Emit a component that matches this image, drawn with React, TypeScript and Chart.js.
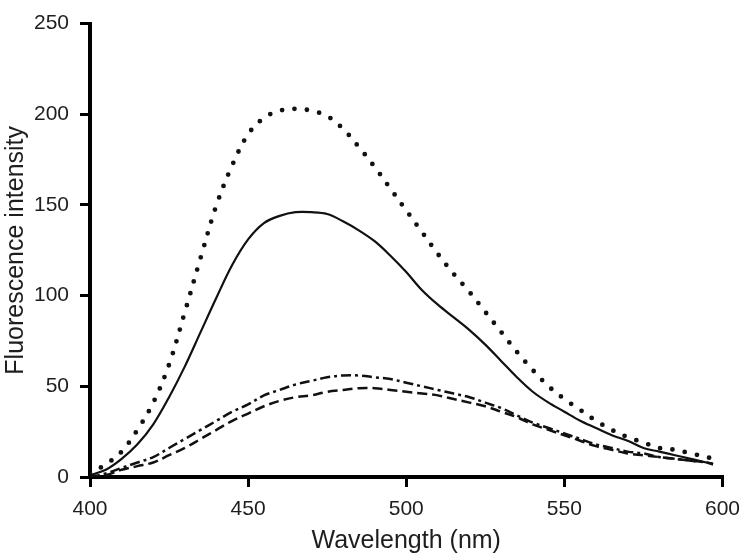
import React, { useEffect, useRef } from "react";
import { Chart, registerables } from "chart.js";

Chart.register(...registerables);

const wavelengths = [400, 405, 410, 415, 420, 425, 430, 435, 440, 445, 450, 455, 460, 465, 470, 475, 480, 485, 490, 495, 500, 505, 510, 515, 520, 525, 530, 535, 540, 545, 550, 555, 560, 565, 570, 575, 580, 585, 590, 595, 597];

const dottedSeries = [2, 7, 14, 26, 41, 62, 91, 121, 150, 172, 189, 198, 202, 203, 202, 199, 192, 182, 171, 159, 147, 135, 123, 112, 102, 91, 80, 69, 59, 50, 43, 37, 31, 26, 22, 19, 16, 15, 13, 11, 10];
const solidSeries = [1, 4, 10, 18, 29, 44, 61, 80, 99, 117, 131, 140, 144, 146, 146, 145, 141, 136, 130, 122, 113, 103, 95, 88, 81, 73, 64, 55, 47, 41, 36, 31, 27, 23, 20, 16, 14, 12, 10, 8, 7.5];
const dashDotSeries = [0, 2, 5, 8, 11, 16, 21, 26, 31, 36, 40, 45, 48, 51, 53, 55, 56, 56, 55, 54, 52, 50, 48, 46, 44, 41, 38, 34, 30, 27, 24, 21, 18, 16, 14, 13, 11, 10, 9, 8, 7];
const dashedSeries = [0, 1, 4, 6, 8, 12, 16, 21, 26, 31, 35, 39, 42, 44, 45, 47, 48, 49, 49, 48, 47, 46, 45, 43, 41, 39, 36, 33, 29, 26, 23, 20, 17, 15, 13, 12, 11, 10, 9, 8, 7];

const xTicks = [400, 450, 500, 550, 600];
const yTicks = [0, 50, 100, 150, 200, 250];

const xTitle = "Wavelength (nm)";
const yTitle = "Fluorescence intensity";

const toPoints = (vals: number[]) => wavelengths.map((x, i) => ({ x, y: vals[i] }));

export default function App() {
  const ref = useRef<HTMLCanvasElement | null>(null);

  useEffect(() => {
    if (!ref.current) return;
    const fam = "'Liberation Sans', Arial, sans-serif";
    const textColor = "#1e1e1e";
    const chart = new Chart(ref.current, {
      type: "line",
      data: {
        datasets: [
          {
            label: "dotted",
            data: toPoints(dottedSeries),
            borderColor: "#111",
            borderWidth: 4.8,
            borderDash: [0, 12.5],
            borderCapStyle: "round",
            pointRadius: 0,
            tension: 0.35,
            fill: false,
          },
          {
            label: "solid",
            data: toPoints(solidSeries),
            borderColor: "#111",
            borderWidth: 2.2,
            pointRadius: 0,
            tension: 0.35,
            fill: false,
          },
          {
            label: "dash-dot",
            data: toPoints(dashDotSeries),
            borderColor: "#111",
            borderWidth: 2.5,
            borderDash: [10, 4, 3, 4],
            pointRadius: 0,
            tension: 0.35,
            fill: false,
          },
          {
            label: "dashed",
            data: toPoints(dashedSeries),
            borderColor: "#111",
            borderWidth: 2.5,
            borderDash: [10, 5],
            pointRadius: 0,
            tension: 0.35,
            fill: false,
          },
        ],
      },
      options: {
        animation: false,
        responsive: false,
        maintainAspectRatio: false,
        layout: { padding: { left: 0, top: 13, right: 21, bottom: 0 } },
        plugins: {
          legend: { display: false },
          tooltip: { enabled: false },
        },
        scales: {
          x: {
            type: "linear",
            min: 400,
            max: 600,
            afterBuildTicks: (s: any) => {
              s.ticks = xTicks.map((v) => ({ value: v }));
            },
            afterFit: (s: any) => {
              s.height = 82;
            },
            ticks: {
              font: { family: fam, size: 21 },
              color: textColor,
              padding: 10,
              maxRotation: 0,
            },
            grid: {
              display: true,
              drawOnChartArea: false,
              drawTicks: true,
              tickLength: 10,
              lineWidth: 3,
              color: "#000",
            },
            border: { display: true, width: 4, color: "#000" },
            title: {
              display: true,
              text: xTitle,
              font: { family: fam, size: 25 },
              color: textColor,
              padding: { top: 0, bottom: 3 },
            },
          },
          y: {
            type: "linear",
            min: 0,
            max: 250,
            afterBuildTicks: (s: any) => {
              s.ticks = yTicks.map((v) => ({ value: v }));
            },
            afterFit: (s: any) => {
              s.width = 90;
            },
            ticks: {
              font: { family: fam, size: 21 },
              color: textColor,
              padding: 11,
            },
            grid: {
              display: true,
              drawOnChartArea: false,
              drawTicks: true,
              tickLength: 10,
              lineWidth: 3,
              color: "#000",
            },
            border: { display: true, width: 4, color: "#000" },
            title: {
              display: true,
              text: yTitle,
              font: { family: fam, size: 25 },
              color: textColor,
              padding: { top: 1, bottom: 0 },
            },
          },
        },
      },
    });
    return () => chart.destroy();
  }, []);

  return (
    <div style={{ position: "absolute", left: 0, top: 0, width: 750, height: 559, background: "#fff" }}>
      <canvas ref={ref} width={750} height={559} />
    </div>
  );
}
